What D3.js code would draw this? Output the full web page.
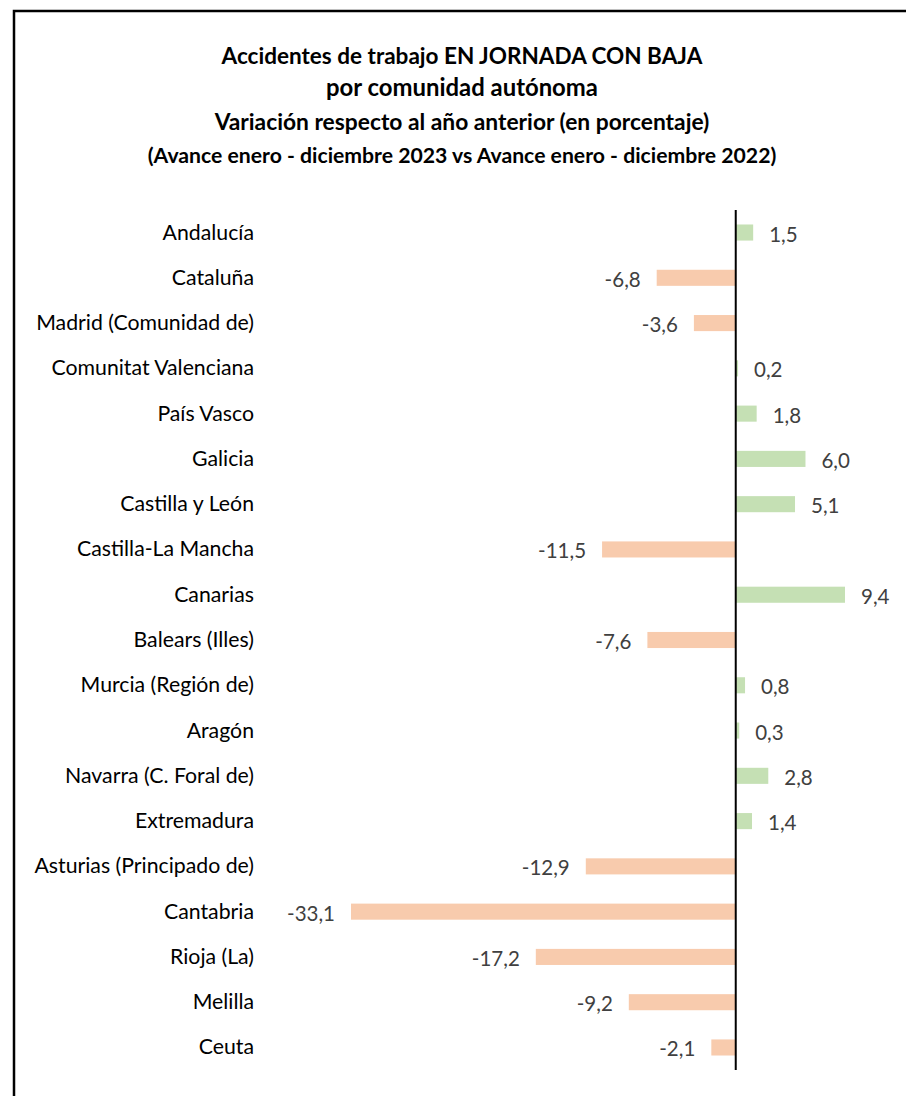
<!DOCTYPE html>
<html>
<head>
<meta charset="utf-8">
<script src="https://cdn.jsdelivr.net/npm/d3@7"></script>
<style>
html,body{margin:0;padding:0;background:#fff;}
svg{display:block;}
</style>
</head>
<body>
<svg id="chart" width="906" height="1096"></svg>
<script>
const categories = ["Andalucía","Cataluña","Madrid (Comunidad de)","Comunitat Valenciana","País Vasco","Galicia","Castilla y León","Castilla-La Mancha","Canarias","Balears (Illes)","Murcia (Región de)","Aragón","Navarra (C. Foral de)","Extremadura","Asturias (Principado de)","Cantabria","Rioja (La)","Melilla","Ceuta"];
const values = [1.5,-6.8,-3.6,0.2,1.8,6.0,5.1,-11.5,9.4,-7.6,0.8,0.3,2.8,1.4,-12.9,-33.1,-17.2,-9.2,-2.1];
const titleLines = ["Accidentes de trabajo EN JORNADA CON BAJA","por comunidad autónoma","Variación respecto al año anterior (en porcentaje)","(Avance enero - diciembre 2023 vs Avance enero - diciembre 2022)"];

const svg = d3.select("#chart");
const FONT = "Lato, 'Open Sans', 'Liberation Sans', sans-serif";

// frame
svg.append("path").attr("d","M14,1096 L14,11 L906,11").attr("fill","none").attr("stroke","#000").attr("stroke-width",2.5);

// title
const titleSpecs = [
  {y:64, w:481, size:22},
  {y:96, w:272, size:22},
  {y:130, w:495, size:20},
  {y:163, w:629, size:20}
];
titleLines.forEach((t,i)=>{
  const s = titleSpecs[i];
  const el = svg.append("text").attr("x",462).attr("y",s.y).attr("text-anchor","middle")
    .attr("font-family",FONT).attr("font-weight","bold").attr("font-size",s.size).attr("fill","#000").text(t);
  const len = el.node().getComputedTextLength();
  if(len>0) el.attr("font-size", s.size*s.w/len);
});

const x = d3.scaleLinear().domain([-33.1, 9.4]).range([351, 845]);
const y = d3.scaleBand().domain(categories).range([210, 1070]).paddingInner(0.645).paddingOuter(0.32);

const data = categories.map((c,i)=>({c, v:values[i]}));

svg.append("g").selectAll("rect").data(data).join("rect")
  .attr("x", d=>Math.min(x(0), x(d.v)))
  .attr("width", d=>Math.abs(x(d.v)-x(0)))
  .attr("y", d=>y(d.c))
  .attr("height", y.bandwidth())
  .attr("fill", d=> d.v>=0 ? "#C5E0B4" : "#F8CBAD");

// axis line
svg.append("line").attr("x1",x(0)).attr("x2",x(0)).attr("y1",210).attr("y2",1070).attr("stroke","#000").attr("stroke-width",2);

// category labels
const catG = svg.append("g");
let sizeRef = 20;
catG.selectAll("text").data(data).join("text")
  .attr("x",254).attr("y",d=>y(d.c)+y.bandwidth()/2+7)
  .attr("text-anchor","end").attr("font-family",FONT).attr("font-size",sizeRef).attr("fill","#000")
  .text(d=>d.c);
// fit font size using reference label width
const refNode = catG.selectAll("text").filter(d=>d.c==="Madrid (Comunidad de)").node();
const refLen = refNode.getComputedTextLength();
if(refLen>0) catG.selectAll("text").attr("font-size", sizeRef*218/refLen);

// value labels
const fmt = v => d3.format(".1f")(v).replace(".",",").replace("−","-");
const valG = svg.append("g");
valG.selectAll("text").data(data).join("text")
  .attr("x", d=> d.v>=0 ? x(d.v)+16 : x(d.v)-16)
  .attr("y", d=>y(d.c)+y.bandwidth()/2+9)
  .attr("text-anchor", d=> d.v>=0 ? "start":"end")
  .attr("font-family",FONT).attr("font-size",20).attr("fill","#404040")
  .text(d=>fmt(d.v));
const vNode = valG.selectAll("text").filter(d=>d.c==="Cantabria").node();
const vLen = vNode.getComputedTextLength();
if(vLen>0) valG.selectAll("text").attr("font-size", 20*48/vLen);
</script>
</body>
</html>
